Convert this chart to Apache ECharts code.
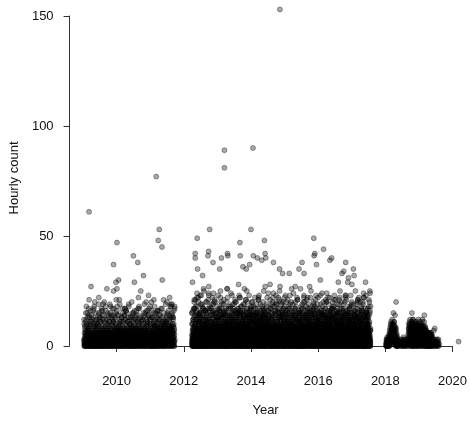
<!DOCTYPE html>
<html><head><meta charset="utf-8">
<script src="https://cdn.jsdelivr.net/npm/echarts@6/dist/echarts.min.js"></script>
<style>html,body{margin:0;padding:0;background:#fff}#c{width:470px;height:423px}</style>
</head><body><div id="c"></div>
<script>
// Axis ticks
const xTicks = [2010, 2012, 2014, 2016, 2018, 2020];
const yTicks = [0, 50, 100, 150];

// Hourly counts (base-36 digits). Each string is one sampling pass spread
// evenly in time over its recording period.
const segA_period = [2009.03, 2011.73];
const segA_counts = [
"20130415230621041302573102408213052401361203a4123051",
"03214062150237081403251062130492301520631402c5013260",
"14023570126403152082410365021431906251403270152406e3",
"30521406280135402173024610532b0314062513047201358204",
"21503620147302514061203825014613027504136205180314h2",
"0631247025130468201352704162031a502431705260143820519",
"24036150271305482061325074130253c8140326150247301625",
"13520471306251403826031540271603529a4106253041720635",
"30415270361204580316250472130652904135270164038g2510",
"25163047281405362019473502614830529b714063210541832a",
"40632518403729160538427106359201483762503d394162705i"
];
const segA_counts2 = [
"3a61807b25c4926f1d3084e57a2190g6b4358c1720d96h3024a",
"09b2647c1a5830e29f7164d03b2586a41g90c73e258b164i0372",
"5c0841a7269d3b5601f82e473a19c06b5h2837d140a6l2953e18",
"17e4309b62c85a1470d396f24b08e5317c2a6g0948b152d73j06",
"4a82d0573c1962e08b4f1735a260d9c48g31706b2e95a1h48023",
"260b95c3741a8d06e2385f71c409a6b3g152e87d40c316a92k05",
"8d1306a5b29e48c170f6293d05a8b1g473c60e29a5184h2b6307",
"0c57a3194b826d0e31f5487a209c6b4i18d3520e7a96c14g0823"
];
const segA_counts3 = [
"c9fa7hdbe5gicfa8jdbhe6kcgaf4bidhe9cfg7ajbdh3ecgfbi",
"ad8fcg5ebhi7dacfj6gbeh4cdafi9bgce7hdaf5jbcge8ifdah"
];
const segB_period = [2012.24, 2017.56];
const segB_counts = [
"20314051283706c162409h13205748a2613048e15023o3617042",
"13027415b3260190d24136058213f72041935i20613740821b35",
"0326140725g1830452917a02316045c28130467n1520349081623",
"41203657130829e1403527b61302194k8205316470c2134059271",
"30162480725d13039146207523a1630f248190351276j0314528",
"1204735129036b0421586130e27340912563q17038250461a932",
"03261408d5271302946153c8021743b5026h1390245163780142",
"2150374603192f6204813725a0316429g5130846m27103564012",
"14035261b708213059e24613072418c3605192a4730216p05138",
"3026154709132d0468213572b1403692057i1423086105c37214",
"0417325160892e1302547a1630928f4150372614l0321587920b",
"26130485179203c6142058a3617029451d302148g6305172409",
"1305274610928b4013562e9137240815a36s2041730652198c04",
"4021635081a7301492653g12307458b32061974j304125608d23",
"0315264702819c3054126a3702149e8231650471k2930185460b",
"2140536170928f1302476b4150382d1964073215h0437126913a",
"3062145807139a2604315c8207412593e1630728r2145063109b",
"1403725160948d2013564b7023148f6205391740i3062159028c",
"0251364709183a4027153e9601324758c1204639m2153074182b",
"3104625178039g2140356a8301724596d1035247j6031428509e",
"2013547160829b3401627c5130489a2306174f51204u3716205a",
"1320564718092e4013725b6130248d9701435162k0327140598c",
"0412375610829a3104625g7130549b2013678d4105237h12045b",
"2031465718023c1405236e9820174a3061527f4130825l034162",
"1024365178092b3014625d7103548a2106374e1502438n203715",
"3140256718049f2013574c8102463b9305172d4160382j215041",
"0213465709182a3104526e8120437c6205183b4150276k301948",
"2301456172098d1402356b7130248g9201563a3104725m203614",
"1032547608193c2014356f8013742a9506123e4106253p104728"
];
const segB_counts2 = [
"5a1f3720c4g18b0625d3l94e0h1372a5i806c3214f9m0275b1d4",
"2e07k3a1596c0f4b2n8130d7g4285a0j3619b2e40h7153c0p82a",
"0c83g2615a4d7f1093e2k5b0741h6a32d8o15290c4g7i3610b52",
"7b14h0926e3a5f1c0847j2d6193a0g5l8241b6e3072f5a9140c3",
"3f06a2d81c4795h0b2e316g04a8m25c1937k0d4a61e28b5034f7",
"9d42b0e61g3a5817c2f04h39b6a1025q7e80c3d4196i2a5b0713",
"1a5c72h04e9b3816f2d0a47j15c293g60e8b4214a7d05k36c1f8",
"6g20d4b18a3e5f0927c1h43b6n8025e1a7d39g04c6f12i5a3089",
"4b8e13a0f62c95d7j041g2b36e8a150l7c2d4h9613a0e5f2b084",
"0e3a9d15c7f4b2086h1g3e5a0k2c749b1d63f0a5i82e4c3107b6",
"8c15b2f04a6e9d3170h2g5c3a84b1m06e2d5917f0a4c3j26b81e",
"2a7d0f13c58e4b6g29a01h5d73c4e0b8r2615f9a3d04i7c1e52b",
"30a2175c41g286e0391h4b072f53d16a48j2c09i15e3m724o1",
"14b038d6257a91f20e463k18c5097g2b341h60a528f93d1l2p",
"2c0419e3a7f152b80d3g64102e5a9h3187c04i2b6d013f5n28",
"0d31b264a8g5193e07c2f418a62h05d3b19j7042e6c3k150q4",
"41e0a358b2f0196c4d27g301a5e8h4b2068i13c9d70f42l351",
"2a5046c1f38b019e2d47g31a058c6h42b091f73e6d1204k2m8",
"0b3e162a9g0574c13d8f20b6a43h1e095c7j2d14a68f30r2b1",
"3c15a082e4f6190d27b3g41a6c0h593e12b084i6d3a1f025n7",
"1a42d073c6g5b1e9840a23f1c7h06d5b249e30j18a4c6f12o5",
"4e0b3186a2g04d7c591f3a20e6h41b8d035c1k274a9e0f36m1",
"2d1a6304b9f25c0e718g3a41d0h52b6e193c08i4a5d27f0l13",
"0a3c7152e48g1b0d296f43a05c1h7e2b38d40j6a1c59f2p304",
"3b2a0619d4e7f30c15g8a42b06h3d1e95c27k0a4b18f3n0262",
"1e4c2083a5g7d19b0f64a3c2h05e17b4d93i0a2c68f1s4302",
"2c03b615a9f4e2d071g38a5c4h10b6e29d3j84a1c07f5l2613",
"0a1d4372e8g6b05c39f14a2d0h71e6b3c58k20a4d1f93m0274",
"4b2e1063a7f5d18c0g42a9b3e0h15c7d246i08a3b51f2o3710"
];
const segB_counts3 = [
"fa3hk0lcgi7mbfejn2dhqa5gkcf8lrbhe1jmgo4afkdi9ncghpe",
"hd6jlfb0gkmch4eiofn7ajgldk2bhsfmei5cgjaq8lfhkd3ngbie",
"gk1ebmhfj6clndag9ihkpfe3bjmgo7dlhcfk0aiegnjb5mfhrdk",
"jf8hcmegk2lbian5fgdjo4hkecml1gfbq9ajhdnk6eilgcf3hmp",
"ei4kgfbl7hjmcd0ngfaik5ehlbo8gjcmdf2hkein9lbgjfa6mch",
"kh3fjd9mglbe6ihcnfk1ajgepd7hlfmbk4icgjo0ehnfda8lkgi"
];
const segC_period = [2018.02, 2018.38];
const segC_counts = ["1020130210231021302140315243617253829a4613728b5263914703826152403120"];
const segC_counts2 = ["0130214021302413526374859a6b47385c9627384a5b6937248153024130212031"];
const segC2_period = [2018.44, 2018.64];
const segC2_counts = ["1021302103120214031201302130210"];
const segD1_period = [2018.68, 2019.22];
const segD1_counts = ["3061428195a3720461839b2051736490c2157304816295a03716428b05391724063819a2604153728196053174829b1630472581936042718350261473"];
const segD1_counts2 = ["5283a7416b92c0384715a2639b04817c5296a3814072b59361a48205937146a8302c5714936b280417593a6281405c37291468305b27143960582174"];
const segD2_period = [2019.22, 2019.40];
const segD2_counts = ["20413526031425301624031520413625140231", "31250416230514260352140631250413024512"];
const segD3_period = [2019.40, 2019.60];
const segD3_counts = ["1021302130120213012031021301"];

// Individually read points above the dense cloud: [year, hourly count]
const sparsePoints = [
[2009.18,61],[2011.18,77],[2011.27,53],[2011.24,48],[2011.35,45],[2010.01,47],[2009.91,37],[2010.50,41],
[2010.63,38],[2010.80,32],[2011.36,30],[2010.53,29],[2010.06,30],[2009.98,29],[2009.24,27],[2009.71,26],
[2009.91,25],[2010.01,26],[2010.72,25],[2010.65,22],[2009.47,22],[2009.18,21],[2010.08,21],[2011.11,21],
[2011.40,21],[2011.50,20],[2011.58,22],[2011.62,19],[2009.60,19],[2009.80,19],[2010.02,18],[2010.25,17],
[2011.65,19],[2009.35,20],[2009.10,18],[2010.88,20],[2011.00,18],[2010.45,20],[2009.55,16],[2010.95,23],
[2011.05,16],
[2013.21,89],[2013.21,81],[2014.06,90],[2014.86,153],[2012.77,53],[2014.00,53],[2012.40,49],[2014.40,48],
[2015.87,49],[2013.67,47],[2012.34,42],[2012.34,40],[2012.74,43],[2012.72,41],[2013.12,40],[2013.30,42],
[2013.31,41],[2013.68,41],[2014.07,41],[2014.19,40],[2014.32,39],[2014.44,40],[2014.42,42],[2014.67,38],
[2015.90,42],[2015.88,41],[2015.95,37],[2016.16,44],[2016.35,39],[2015.52,38],[2012.87,38],[2013.07,35],
[2012.41,35],[2012.56,32],[2012.26,29],[2013.76,36],[2013.86,35],[2013.96,37],[2014.85,35],[2014.94,33],
[2015.14,33],[2015.43,35],[2015.58,33],[2016.40,40],[2016.82,38],[2016.76,34],[2016.71,33],[2017.05,35],
[2017.07,32],[2016.90,31],[2016.88,29],[2016.60,29],[2017.41,29],
[2018.32,20],[2018.24,15],[2018.29,14],[2018.20,10],[2018.79,15],[2019.16,14],[2019.47,8],[2019.44,7],
[2020.18,2]
];

// one pass: a string of counts spread evenly across the period
function expand(period, str) {
  const n = str.length, out = [];
  for (let i = 0; i < n; i++) {
    out.push([period[0] + (period[1] - period[0]) * i / (n - 1), parseInt(str[i], 36)]);
  }
  return out;
}
const passes = [
  [segA_period, segA_counts.join('')], [segA_period, segA_counts2.join('')], [segA_period, segA_counts3.join('')],
  [segB_period, segB_counts.join('')], [segB_period, segB_counts2.join('')], [segB_period, segB_counts3.join('')],
  [segC_period, segC_counts[0]], [segC_period, segC_counts2[0]],
  [segC2_period, segC2_counts[0]],
  [segD1_period, segD1_counts[0]], [segD1_period, segD1_counts2[0]],
  [segD2_period, segD2_counts[0]], [segD2_period, segD2_counts[1]],
  [segD3_period, segD3_counts[0]]
];
const seriesData = passes.map(p => expand(p[0], p[1]));
seriesData.push(sparsePoints);

const axisColor = '#333';
const font = 'Liberation Sans, Arial, sans-serif';
const chart = echarts.init(document.getElementById('c'), null, {renderer: 'canvas'});
chart.setOption({
  animation: false,
  backgroundColor: '#fff',
  grid: {left: 113, right: 17, top: 16, bottom: 77, containLabel: false},
  xAxis: {
    type: 'value', min: xTicks[0], max: xTicks[xTicks.length - 1], interval: 2, offset: 13,
    axisLine: {show: true, lineStyle: {color: axisColor, width: 1}},
    axisTick: {show: true, inside: false, length: 6, lineStyle: {color: axisColor}},
    axisLabel: {color: '#111', fontSize: 13, fontFamily: font, margin: 16,
      formatter: v => xTicks.includes(v) ? String(v) : ''},
    splitLine: {show: false},
    name: 'Year', nameLocation: 'middle', nameGap: 45,
    nameTextStyle: {color: '#111', fontSize: 13, fontFamily: font, padding: [0, 38, 0, 0]}
  },
  yAxis: {
    type: 'value', min: yTicks[0], max: yTicks[yTicks.length - 1], interval: 50, offset: 47,
    axisLine: {show: true, lineStyle: {color: axisColor, width: 1}},
    axisTick: {show: true, inside: false, length: 6, lineStyle: {color: axisColor}},
    axisLabel: {color: '#111', fontSize: 13, fontFamily: font, margin: 16},
    splitLine: {show: false},
    name: 'Hourly count', nameLocation: 'middle', nameGap: 43,
    nameTextStyle: {color: '#111', fontSize: 13, fontFamily: font, padding: [0, 0, 0, 6]}
  },
  series: seriesData.map(d => ({
    type: 'scatter', data: d, symbol: 'circle', symbolSize: 5,
    clip: false, large: false, largeThreshold: 1e9,
    progressive: 0, progressiveThreshold: 1e9,
    itemStyle: {color: '#000', borderColor: '#000', borderWidth: 1, opacity: 0.34},
    emphasis: {disabled: true}
  }))
});
</script></body></html>
